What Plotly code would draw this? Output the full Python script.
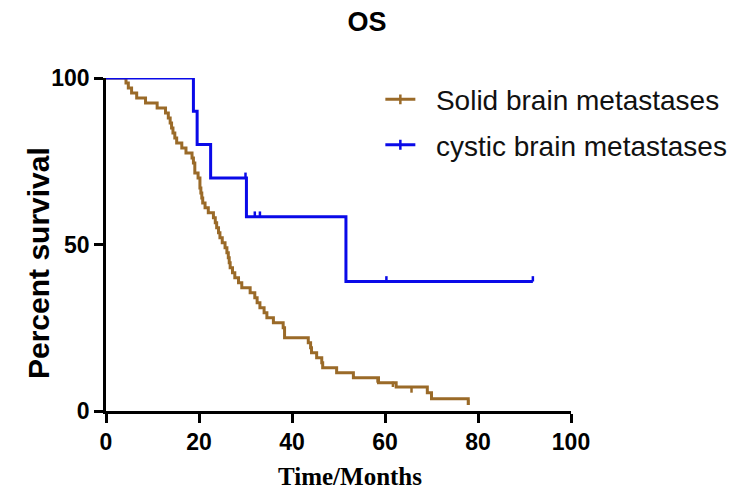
import plotly.graph_objects as go

# ---- data ----
solid_time = [0, 4.3, 4.8, 5.5, 6.6, 8.5, 11, 12.8, 13.4, 13.8,
              14.1, 14.4, 14.8, 15.2, 16.3, 17.2, 18.5, 18.8, 19.1, 19.8,
              20.2, 20.4, 20.6, 20.8, 21.3, 22, 23.1, 23.5, 23.8, 24.2,
              24.5, 25, 25.6, 26, 26.3, 26.5, 26.7, 27.2, 27.7, 28.5,
              29.2, 31, 32, 32.5, 33.1, 34, 34.6, 36, 38.1, 38.4,
              43.5, 44, 44.2, 45.3, 46.4, 46.6, 49.6, 53.2, 58.6, 62.4,
              69.1, 70, 77.9]
solid_surv = [100, 98.5, 97, 95.5, 94, 92.5, 91, 89.5, 88, 86.5,
              85, 83.5, 82, 80.5, 79, 77.5, 76, 74.5, 71.5, 70,
              67, 65.5, 64, 62.5, 61, 59.5, 58, 56.5, 55, 53.5,
              52, 50.5, 49, 47.5, 46, 44.5, 43, 41.5, 40, 38.5,
              37, 35.5, 34, 32.5, 31, 29.5, 28, 26.5, 25, 22,
              20.5, 19, 17.5, 16, 14.5, 13, 11.5, 10, 8.5, 7.2,
              5.5, 3.7, 1.8]
solid_cens_time = [58.4, 61.7, 65.7, 77.9]
solid_cens_surv = [8.5, 7.2, 5.5, 1.8]

cystic_time = [0, 18.8, 19.6, 22.5, 30.2, 51.6, 91.8]
cystic_surv = [100, 90, 80, 70, 58.33, 38.89, 38.89]
cystic_cens_time = [30.0, 32.0, 33.1, 60.3, 91.8]
cystic_cens_surv = [70, 58.33, 58.33, 38.89, 38.89]

series_names = ["Solid brain metastases", "cystic brain metastases"]
x_ticks = [0, 20, 40, 60, 80, 100]
y_ticks = [0, 50, 100]
x_title = "Time/Months"
y_title = "Percent survival"

BROWN = "#9a6a28"
BLUE = "#0a0ae8"
TICK_H = 1.6
NBSP = "\u00a0\u00a0"

fig = go.Figure()

def add_series(t, s, ct, cs, color, name, grp):
    fig.add_trace(go.Scatter(x=t, y=s, mode="lines", line=dict(color=color, width=3, shape="hv"),
                             showlegend=False, cliponaxis=False, hoverinfo="skip"))
    fig.add_trace(go.Scatter(x=ct, y=cs, mode="markers", marker=dict(size=1, color=color, opacity=0),
                             error_y=dict(type="data", symmetric=False, array=[TICK_H] * len(ct),
                                          arrayminus=[0] * len(ct), color=color, thickness=2.5, width=0),
                             showlegend=False, cliponaxis=False, hoverinfo="skip"))
    fig.add_trace(go.Scatter(x=[None], y=[None], mode="lines+markers", name=NBSP + name, legendgroup=grp,
                             line=dict(color=color, width=3),
                             marker=dict(symbol="line-ns", size=7, line=dict(color=color, width=2.5))))

add_series(solid_time, solid_surv, solid_cens_time, solid_cens_surv, BROWN, series_names[0], "a")
add_series(cystic_time, cystic_surv, cystic_cens_time, cystic_cens_surv, BLUE, series_names[1], "b")

# the page body adds an 8px offset; margins compensate for it
fig.update_layout(
    width=735, height=504,
    margin=dict(l=98, r=172, t=70, b=101, autoexpand=False),
    paper_bgcolor="white", plot_bgcolor="white",
    title=dict(text="OS", x=359 / 735, xref="container", xanchor="center", y=1 - 4 / 504, yref="container",
               yanchor="top",
               font=dict(family="Liberation Sans", size=27, color="black", weight="bold")),
    legend=dict(x=0.59, y=1.01, xanchor="left", yanchor="top", tracegroupgap=6,
                font=dict(family="Liberation Sans", size=28, color="#111"), bgcolor="rgba(0,0,0,0)"),
    xaxis=dict(range=[0, 100], tickvals=x_ticks, showline=True, linecolor="black", linewidth=2.5,
               ticks="outside", ticklen=9, tickwidth=2.5, tickcolor="black", showgrid=False, zeroline=False,
               automargin=False,
               tickfont=dict(family="Liberation Sans", size=23, color="black", weight="bold")),
    yaxis=dict(range=[0, 100], tickvals=y_ticks, showline=True, linecolor="black", linewidth=2.5,
               ticks="outside", ticklen=9, tickwidth=2.5, tickcolor="black", showgrid=False, zeroline=False,
               automargin=False,
               tickfont=dict(family="Liberation Sans", size=23, color="black", weight="bold")),
    annotations=[
        dict(text=x_title, xref="paper", yref="paper", x=(350 - 106) / 465, y=-(476 - 411) / 333,
             xanchor="center", yanchor="middle", showarrow=False,
             font=dict(family="Liberation Serif", size=25, color="black", weight="bold")),
        dict(text=y_title, xref="paper", yref="paper", x=-(98 - 30) / 465, y=(403 - 255) / 333,
             xanchor="center", yanchor="middle", showarrow=False, textangle=-90,
             font=dict(family="Liberation Sans", size=30, color="black", weight="bold")),
    ],
)

fig.write_html("out.html")
